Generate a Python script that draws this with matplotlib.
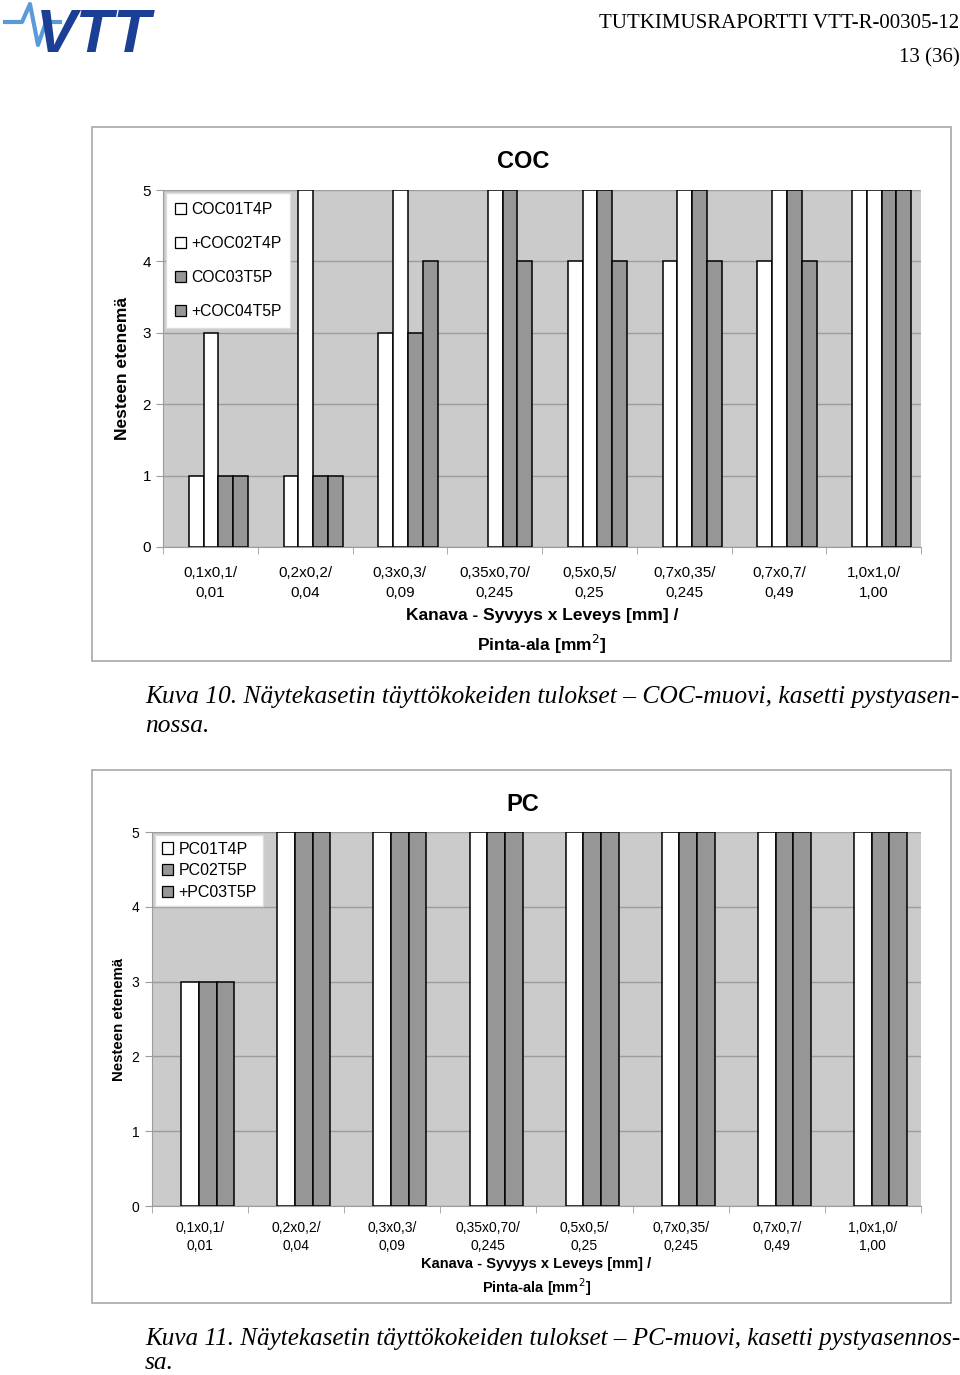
import numpy as np
import matplotlib
matplotlib.use("Agg")
import matplotlib.pyplot as plt
from matplotlib.patches import Rectangle, Patch

plt.rcParams["font.family"] = ["Liberation Sans", "DejaVu Sans"]

# ------------ data --------------
categories = ["0,1x0,1/\n0,01", "0,2x0,2/\n0,04", "0,3x0,3/\n0,09", "0,35x0,70/\n0,245",
              "0,5x0,5/\n0,25", "0,7x0,35/\n0,245", "0,7x0,7/\n0,49", "1,0x1,0/\n1,00"]

coc_series = ["COC01T4P", "+COC02T4P", "COC03T5P", "+COC04T5P"]
coc01 = [1, 1, 3, 0, 4, 4, 4, 5]
coc02 = [3, 5, 5, 5, 5, 5, 5, 5]
coc03 = [1, 1, 3, 5, 5, 5, 5, 5]
coc04 = [1, 1, 4, 4, 4, 4, 4, 5]
coc_colors = ["white", "white", "#969696", "#969696"]

pc_series = ["PC01T4P", "PC02T5P", "+PC03T5P"]
pc01 = [3, 5, 5, 5, 5, 5, 5, 5]
pc02 = [3, 5, 5, 5, 5, 5, 5, 5]
pc03 = [3, 5, 5, 5, 5, 5, 5, 5]
pc_colors = ["white", "#969696", "#969696"]

x_title = "Kanava - Syvyys x Leveys [mm] /\nPinta-ala [mm$^2$]"
y_title = "Nesteen etenemä"

BG = "#cbcbcb"
GRID = "#9c9c9c"


def draw_chart(ax, title, names, values, colors, width, shift, o):
    x = np.arange(len(categories))
    n = len(values)
    for j, (vals, col) in enumerate(zip(values, colors)):
        lws = [1.1 if v > 0 else 0 for v in vals]
        ax.bar(x + (j - (n - 1) / 2) * width + shift, vals, width=width, color=col,
               edgecolor="black", linewidth=lws, zorder=3)

    ax.set_facecolor(BG)
    ax.set_xlim(-0.5, len(categories) - 0.5)
    ax.set_ylim(0, 5)
    ax.set_yticks(range(6))
    ax.yaxis.grid(True, color=GRID, linewidth=1.0, zorder=0)
    ax.set_axisbelow(True)

    ax.set_xticks(x)
    ax.set_xticklabels(categories, fontsize=o["fs_tick"], linespacing=o["tick_ls"])
    ax.tick_params(axis="x", which="major", length=0, pad=o["xpad"])
    ax.set_xticks(np.arange(len(categories) + 1) - 0.5, minor=True)
    ax.tick_params(axis="x", which="minor", length=5, color=GRID, direction="out")
    ax.tick_params(axis="y", length=5, color=GRID, labelsize=o["fs_tick"], pad=o["ypad"])

    for s in ["top", "right"]:
        ax.spines[s].set_visible(False)
    for s in ["left", "bottom"]:
        ax.spines[s].set_color(GRID)

    ax.set_title(title, fontsize=17, fontweight="bold", pad=o["tpad"], x=o["tx"])
    ax.set_xlabel(x_title, fontsize=o["fs_xlab"], fontweight="bold",
                  linespacing=o["xlab_ls"], labelpad=o["xlab_pad"])
    ax.set_ylabel(y_title, fontsize=o["fs_lab"], fontweight="bold")
    ax.yaxis.set_label_coords(o["ylab_x"], 0.5)

    handles = [Patch(facecolor=c, edgecolor="black", linewidth=0.9) for c in colors]
    leg = ax.legend(handles, names, loc="upper left", bbox_to_anchor=(0.0, 1.0),
                    fontsize=o["leg_fs"], labelspacing=o["leg_space"], handlelength=0.7,
                    handleheight=0.7, handletextpad=0.35, borderpad=o["leg_pad"],
                    borderaxespad=0.2, fancybox=False, framealpha=1.0,
                    edgecolor="#dddddd")
    leg.get_frame().set_linewidth(1.0)
    leg.set_zorder(5)


fig = plt.figure(figsize=(9.6, 13.75), dpi=100)

# chart frames (behind the axes)
fig.patches.append(Rectangle((0.0958, 0.5193), 0.8948, 0.3884, transform=fig.transFigure,
                             facecolor="white", edgecolor="#a8a8a8", linewidth=1.2, zorder=-1))
fig.patches.append(Rectangle((0.0958, 0.0524), 0.8948, 0.3876, transform=fig.transFigure,
                             facecolor="white", edgecolor="#a8a8a8", linewidth=1.2, zorder=-1))

ax1 = fig.add_axes([0.1698, 0.6022, 0.7896, 0.2596])
draw_chart(ax1, "COC", coc_series, [coc01, coc02, coc03, coc04], coc_colors,
           width=0.156, shift=0.085,
           o=dict(fs_tick=11, tick_ls=1.5, xpad=14, ypad=3.5, fs_lab=12.5, ylab_x=-0.044,
                  fs_xlab=12.5, xlab_ls=1.55, xlab_pad=6, tpad=16, tx=0.475,
                  leg_fs=11.3, leg_space=1.22, leg_pad=0.55))

ax2 = fig.add_axes([0.1583, 0.1229, 0.8010, 0.2720])
draw_chart(ax2, "PC", pc_series, [pc01, pc02, pc03], pc_colors,
           width=0.184, shift=0.08,
           o=dict(fs_tick=10, tick_ls=1.3, xpad=11, ypad=4, fs_lab=10.8, ylab_x=-0.034,
                  fs_xlab=10.5, xlab_ls=1.35, xlab_pad=3, tpad=15, tx=0.482,
                  leg_fs=11.5, leg_space=0.42, leg_pad=0.4))

# ---------- page header ----------
fig.text(0.9995, 1 - 23 / 1375, "TUTKIMUSRAPORTTI VTT-R-00305-12", ha="right", va="center",
         fontsize=15, family="Liberation Serif")
fig.text(0.9995, 1 - 58 / 1375, "13 (36)", ha="right", va="center",
         fontsize=15, family="Liberation Serif")
fig.text(36 / 960, 1 - 37 / 1375, "VTT", ha="left", va="center", fontsize=44,
         fontweight="bold", style="italic", color="#1b3f94", family="Liberation Sans")
fig.add_artist(plt.Line2D([5 / 960, 22 / 960, 30 / 960, 38 / 960, 46 / 960, 60 / 960],
                          [1 - 22 / 1375, 1 - 22 / 1375, 1 - 4 / 1375, 1 - 45 / 1375,
                           1 - 22 / 1375, 1 - 22 / 1375],
                          transform=fig.transFigure, color="#5a9ad8", linewidth=3))

# ---------- captions ----------
renderer = fig.canvas.get_renderer()


def caption(text, y_px, fit_width=None):
    t = fig.text(145 / 960, 1 - y_px / 1375, text, ha="left", va="center", fontsize=18.3,
                 family="Liberation Serif", style="italic")
    if fit_width:
        # the report justifies the first line up to the right margin
        w = t.get_window_extent(renderer).width
        t.set_fontsize(18.3 * fit_width / w)
    return t


caption("Kuva 10. Näytekasetin täyttökokeiden tulokset – COC-muovi, kasetti pystyasen-",
        697, fit_width=813)
caption("nossa.", 726)
caption("Kuva 11. Näytekasetin täyttökokeiden tulokset – PC-muovi, kasetti pystyasennos-",
        1339, fit_width=813)
caption("sa.", 1363)

fig.savefig("out.png", dpi=100)
